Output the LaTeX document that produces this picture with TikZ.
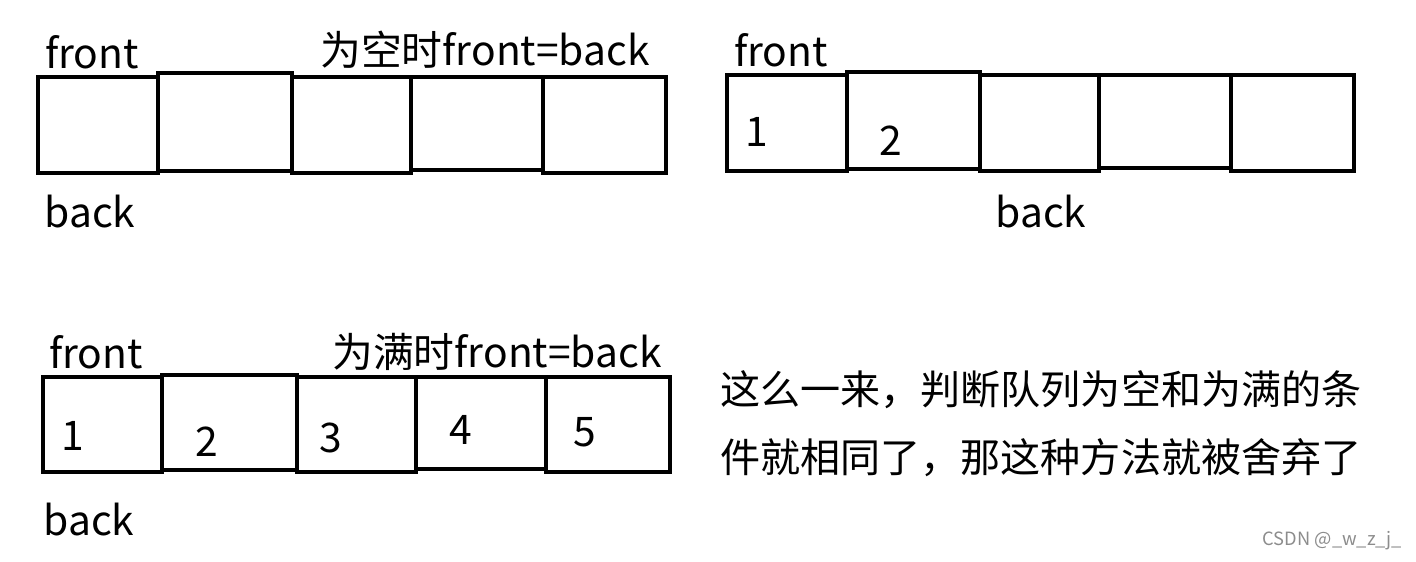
\documentclass[tikz,border=0pt]{standalone}
\usepackage{fontspec}
\setmainfont{Noto Sans CJK SC}
\usetikzlibrary{positioning}

\tikzset{
  cell/.style={draw=black, line width=3.2pt},
  lbl/.style={font=\fontsize{29}{32}\selectfont, inner sep=0pt},
  num/.style={font=\fontsize{29}{32}\selectfont, inner sep=0pt},
  note/.style={font=\fontsize{28.5}{34}\selectfont, inner sep=0pt, anchor=west}
}

\begin{document}
\begin{tikzpicture}[x=0.025cm, y=-0.025cm]
  \useasboundingbox (0,0) rectangle (1416,561);
  % empty queue
  \foreach \xa/\xb/\ya/\yb in {38/158/77/173, 158/292/73/171, 292/411/77/173, 411/543/77/170, 543/666/77/173} {
    \draw[cell] (\xa,\ya) rectangle (\xb,\yb);
  }
  \node[lbl] (front1) at (92,52) {front};
  \node[lbl] (cond1) at (485,50) {为空时front=back};
  \node[lbl] (back1) at (90,212) {back};
  % two elements
  \foreach \xa/\xb/\ya/\yb in {727/847/75/171, 847/980/72/169, 980/1099/75/171, 1099/1231/75/168, 1231/1354/75/171} {
    \draw[cell] (\xa,\ya) rectangle (\xb,\yb);
  }
  \node[lbl] (front2) at (781,50) {front};
  \node[num] (n21) at (757,132) {1};
  \node[num] (n22) at (891,141) {2};
  \node[lbl] (back2) at (1041,212) {back};
  % full queue
  \foreach \xa/\xb/\ya/\yb in {43/162/377/472, 162/297/375/470, 297/416/377/472, 416/546/377/469, 546/670/377/472} {
    \draw[cell] (\xa,\ya) rectangle (\xb,\yb);
  }
  \node[lbl] (front3) at (96,352) {front};
  \node[lbl] (cond3) at (497,352) {为满时front=back};
  \foreach \k/\px/\py in {1/73/436, 2/207/442, 3/331/438, 4/461/430, 5/585/432} {
    \node[num] (n3\k) at (\px,\py) {\k};
  }
  \node[lbl] (back3) at (89,520) {back};
  % remark
  \node[note] (rem1) at (720,390) {这么一来，判断队列为空和为满的条};
  \node[note] (rem2) at (720,458) {件就相同了，那这种方法就被舍弃了};
  \node[font=\fontsize{13}{15}\selectfont, text=black!45, inner sep=0pt] (wm) at (1332,541) {CSDN @\_w\_z\_j\_};
\end{tikzpicture}
\end{document}
